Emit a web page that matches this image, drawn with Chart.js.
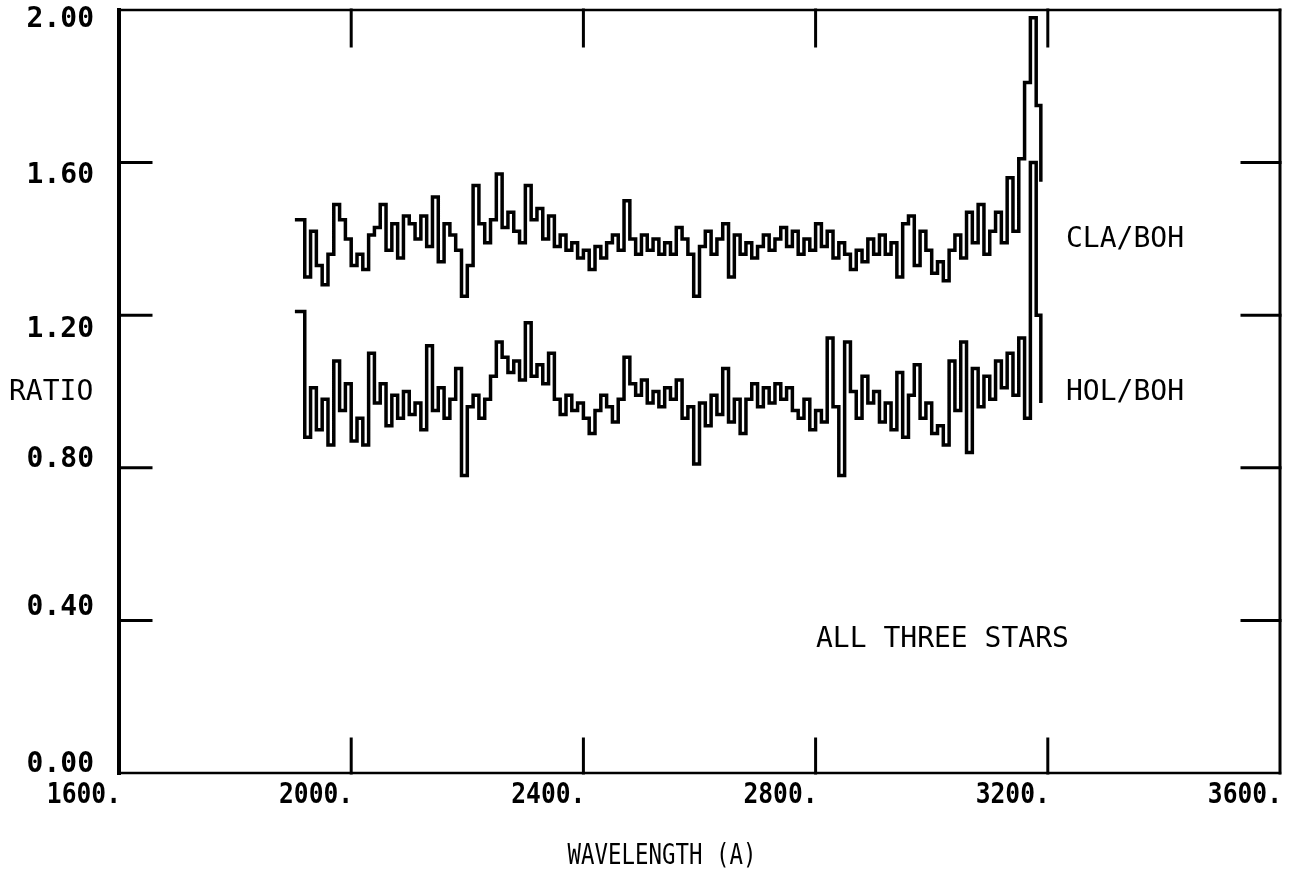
<!DOCTYPE html>
<html>
<head>
<meta charset="utf-8">
<title>Ratio vs wavelength</title>
<script src="https://cdn.jsdelivr.net/npm/chart.js@4.4.1/dist/chart.umd.min.js"></script>
<style>
  html, body { margin: 0; padding: 0; background: #fff; }
  #wrap { width: 1292px; height: 874px; position: relative; }
</style>
</head>
<body>
<div id="wrap"><canvas id="ratioChart"></canvas></div>
<script>
// wavelength bin edges (A), last entry closes the final bin
const wavelengths = [
  1903, 1920, 1930, 1940, 1950, 1960, 1970, 1980, 1990, 2000,
  2010, 2020, 2030, 2040, 2050, 2060, 2070, 2080, 2090, 2100,
  2110, 2120, 2130, 2140, 2150, 2160, 2170, 2180, 2190, 2200,
  2210, 2220, 2230, 2240, 2250, 2260, 2270, 2280, 2290, 2300,
  2310, 2320, 2330, 2340, 2350, 2360, 2370, 2380, 2390, 2400,
  2410, 2420, 2430, 2440, 2450, 2460, 2470, 2480, 2490, 2500,
  2510, 2520, 2530, 2540, 2550, 2560, 2570, 2580, 2590, 2600,
  2610, 2620, 2630, 2640, 2650, 2660, 2670, 2680, 2690, 2700,
  2710, 2720, 2730, 2740, 2750, 2760, 2770, 2780, 2790, 2800,
  2810, 2820, 2830, 2840, 2850, 2860, 2870, 2880, 2890, 2900,
  2910, 2920, 2930, 2940, 2950, 2960, 2970, 2980, 2990, 3000,
  3010, 3020, 3030, 3040, 3050, 3060, 3070, 3080, 3090, 3100,
  3110, 3120, 3130, 3140, 3150, 3160, 3170, 3180, 3188
];

// CLA / BOH flux ratio
const claBoh = [
  1.45, 1.30, 1.42, 1.33, 1.28, 1.36, 1.49, 1.45, 1.40, 1.33,
  1.36, 1.32, 1.41, 1.43, 1.49, 1.37, 1.44, 1.35, 1.46, 1.44,
  1.40, 1.46, 1.38, 1.51, 1.34, 1.44, 1.41, 1.37, 1.25, 1.33,
  1.54, 1.44, 1.39, 1.45, 1.57, 1.43, 1.47, 1.42, 1.39, 1.54,
  1.45, 1.48, 1.40, 1.46, 1.38, 1.41, 1.37, 1.39, 1.35, 1.37,
  1.32, 1.38, 1.35, 1.39, 1.41, 1.37, 1.50, 1.40, 1.36, 1.41,
  1.37, 1.40, 1.36, 1.39, 1.36, 1.43, 1.40, 1.36, 1.25, 1.38,
  1.42, 1.36, 1.40, 1.44, 1.30, 1.41, 1.36, 1.39, 1.35, 1.38,
  1.41, 1.37, 1.40, 1.43, 1.38, 1.42, 1.36, 1.40, 1.37, 1.44,
  1.38, 1.42, 1.35, 1.39, 1.36, 1.32, 1.37, 1.34, 1.40, 1.36,
  1.41, 1.36, 1.39, 1.30, 1.44, 1.46, 1.33, 1.42, 1.37, 1.31,
  1.34, 1.29, 1.37, 1.41, 1.35, 1.47, 1.39, 1.49, 1.36, 1.42,
  1.47, 1.39, 1.56, 1.42, 1.61, 1.81, 1.98, 1.75, 1.55
];

// HOL / BOH flux ratio
const holBoh = [
  1.21, 0.88, 1.01, 0.90, 0.98, 0.86, 1.08, 0.95, 1.02, 0.87,
  0.93, 0.86, 1.10, 0.97, 1.02, 0.91, 0.99, 0.93, 1.00, 0.94,
  0.97, 0.90, 1.12, 0.95, 1.01, 0.93, 0.98, 1.06, 0.78, 0.96,
  0.99, 0.93, 0.98, 1.04, 1.13, 1.09, 1.05, 1.08, 1.03, 1.18,
  1.04, 1.07, 1.02, 1.10, 0.98, 0.94, 0.99, 0.95, 0.97, 0.93,
  0.89, 0.95, 0.99, 0.96, 0.92, 0.98, 1.09, 1.02, 0.99, 1.03,
  0.97, 1.00, 0.96, 1.01, 0.98, 1.03, 0.93, 0.96, 0.81, 0.97,
  0.91, 0.99, 0.94, 1.06, 0.92, 0.98, 0.89, 0.98, 1.02, 0.96,
  1.01, 0.97, 1.02, 0.98, 1.01, 0.95, 0.93, 0.98, 0.90, 0.95,
  0.92, 1.14, 0.96, 0.78, 1.13, 1.00, 0.93, 1.04, 0.97, 1.00,
  0.92, 0.97, 0.90, 1.05, 0.88, 0.99, 1.07, 0.93, 0.97, 0.89,
  0.91, 0.86, 1.08, 0.95, 1.13, 0.84, 1.06, 0.96, 1.04, 0.98,
  1.08, 1.01, 1.10, 0.99, 1.14, 0.93, 1.60, 1.20, 0.97
];

// axis ticks and labels
const xTicks = [2000, 2400, 2800, 3200];
const xTickLabels = [1600, 2000, 2400, 2800, 3200, 3600];
const yTicks = [0.4, 0.8, 1.2, 1.6];
const yTickLabels = [0.0, 0.4, 0.8, 1.2, 1.6, 2.0];

const numFont = 'bold 28px "DejaVu Sans Mono", "Liberation Mono", monospace';
const textFont = '28px "DejaVu Sans Mono", "Liberation Mono", monospace';

const toPoints = vals => vals.map((v, i) => ({ x: wavelengths[i], y: v }));

// frame, inward ticks, tick labels and annotations
const plotFrame = {
  id: 'plotFrame',
  afterDraw(chart) {
    const { ctx, chartArea: a, scales: { x, y } } = chart;
    const seg = (x1, y1, x2, y2) => {
      ctx.beginPath(); ctx.moveTo(x1, y1); ctx.lineTo(x2, y2); ctx.stroke();
    };
    ctx.save();
    ctx.strokeStyle = '#000';
    ctx.fillStyle = '#000';
    ctx.lineCap = 'square';

    ctx.lineWidth = 2.5;
    seg(a.left, a.top, a.right, a.top);
    seg(a.left, a.bottom, a.right, a.bottom);
    ctx.lineWidth = 3;
    seg(a.right, a.top, a.right, a.bottom);
    ctx.lineWidth = 4;
    seg(a.left, a.top, a.left, a.bottom);

    ctx.lineWidth = 3;
    xTicks.forEach(v => {
      const px = x.getPixelForValue(v);
      seg(px, a.bottom, px, a.bottom - 34);
      seg(px, a.top, px, a.top + 36);
    });
    yTicks.forEach(v => {
      const py = y.getPixelForValue(v);
      seg(a.left, py, a.left + 32, py);
      seg(a.right, py, a.right - 38, py);
    });

    // x tick labels, right edge on the tick
    ctx.font = numFont;
    ctx.textAlign = 'right';
    ctx.textBaseline = 'middle';
    xTickLabels.forEach(v => {
      const px = x.getPixelForValue(v);
      ctx.save();
      ctx.translate(px + 2, a.bottom + 23);
      ctx.scale(0.88, 1);
      ctx.fillText(v + '.', 0, 0);
      ctx.restore();
    });

    // y tick labels
    const yShift = { '0.00': -8, '0.40': -13, '0.80': -8, '1.20': 15, '1.60': 13, '2.00': 10 };
    yTickLabels.forEach(v => {
      const s = v.toFixed(2);
      ctx.fillText(s, 94, y.getPixelForValue(v) + yShift[s]);
    });

    ctx.font = textFont;
    ctx.textAlign = 'left';
    ctx.fillText('RATIO', 9, 393);
    ctx.fillText('CLA/BOH', 1066, 240);
    ctx.fillText('HOL/BOH', 1066, 393);
    ctx.fillText('ALL THREE STARS', 816, 640);
    ctx.textAlign = 'center';
    ctx.save();
    ctx.translate(662, 857);
    ctx.scale(0.8, 1);
    ctx.fillText('WAVELENGTH (A)', 0, 0);
    ctx.restore();
    ctx.restore();
  }
};

new Chart(document.getElementById('ratioChart'), {
  type: 'line',
  data: {
    datasets: [
      { label: 'CLA/BOH', data: toPoints(claBoh) },
      { label: 'HOL/BOH', data: toPoints(holBoh) }
    ]
  },
  options: {
    responsive: true,
    maintainAspectRatio: false,
    animation: false,
    layout: { padding: { left: 119, right: 12, top: 10, bottom: 101 } },
    elements: {
      line: { borderColor: '#000', borderWidth: 3.5, stepped: true, tension: 0, fill: false },
      point: { radius: 0, hoverRadius: 0 }
    },
    scales: {
      x: { type: 'linear', min: 1600, max: 3600, display: false },
      y: { type: 'linear', min: 0, max: 2, display: false }
    },
    plugins: {
      legend: { display: false },
      tooltip: { enabled: false }
    }
  },
  plugins: [plotFrame]
});
</script>
</body>
</html>
